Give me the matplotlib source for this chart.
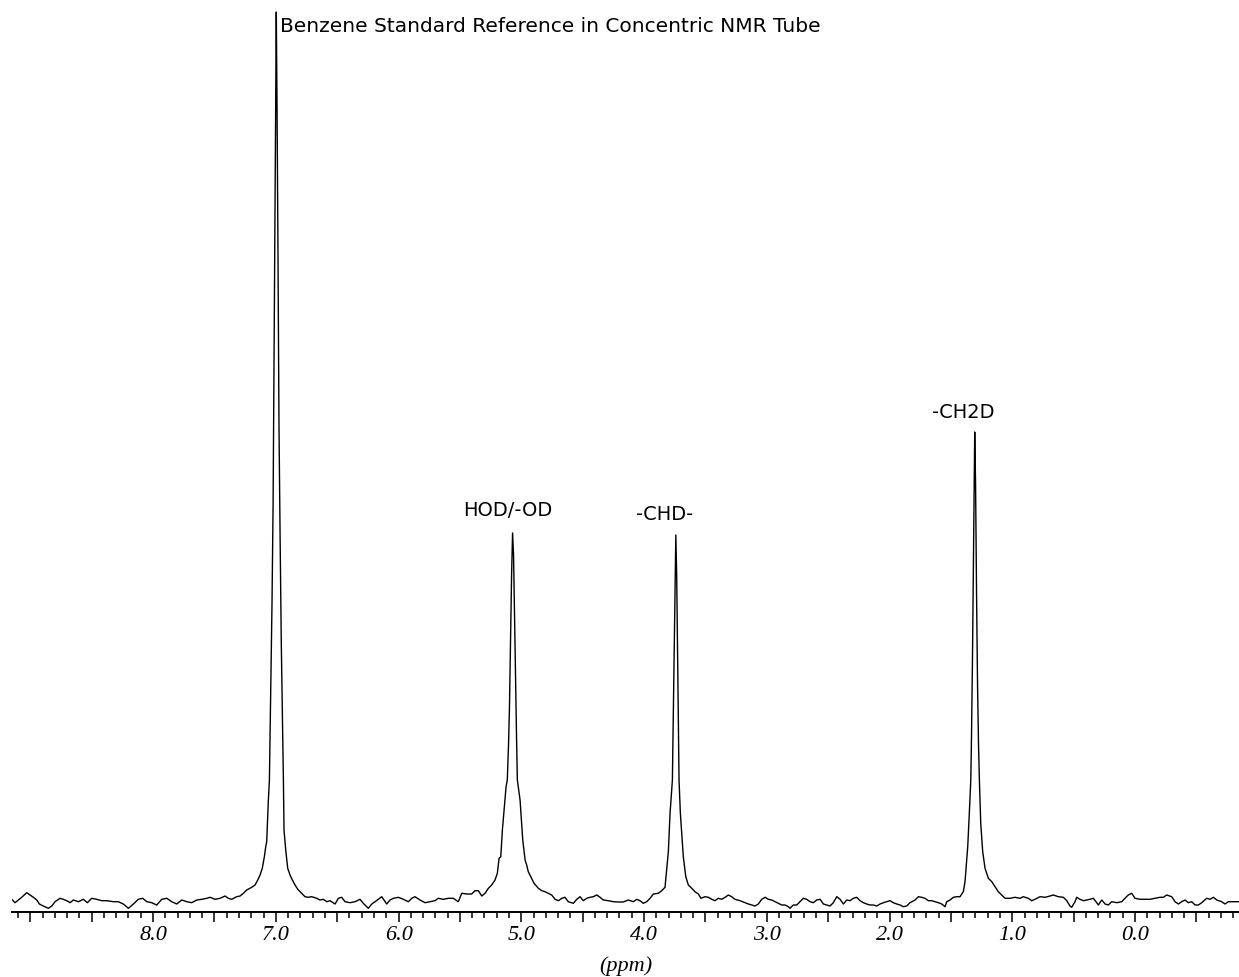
import matplotlib
matplotlib.use('Agg')
import matplotlib.pyplot as plt
from matplotlib.ticker import MultipleLocator, FuncFormatter

# chemical shift (ppm) and intensity (arbitrary units)
shift_ppm = [
    9.151, 9.124, 9.097, 9.070, 9.029, 9.002, 8.975, 8.947, 8.926, 8.894,
    8.853, 8.825, 8.798, 8.758, 8.731, 8.703, 8.676, 8.649, 8.608, 8.568,
    8.535, 8.499, 8.459, 8.418, 8.377, 8.323, 8.283, 8.242, 8.201, 8.160,
    8.120, 8.084, 8.051, 8.011, 7.970, 7.929, 7.888, 7.848, 7.807, 7.766,
    7.725, 7.685, 7.644, 7.603, 7.562,
    # benzene
    7.536, 7.495, 7.454, 7.413, 7.387, 7.359, 7.318, 7.291, 7.264, 7.237,
    7.196, 7.169, 7.147, 7.128, 7.110, 7.093, 7.082, 7.074, 7.061, 7.052,
    7.043, 7.031, 7.022, 7.014, 7.006, 7.000, 6.996, 6.990, 6.982, 6.974,
    6.965, 6.955, 6.938, 6.933, 6.919, 6.903, 6.884, 6.865, 6.843, 6.821,
    6.789, 6.762, 6.735, 6.707, 6.666, 6.640, 6.613, 6.585, 6.558, 6.517,
    6.490, 6.463, 6.436, 6.395, 6.354, 6.314, 6.287, 6.259, 6.246, 6.218,
    6.191, 6.165, 6.137, 6.096, 6.069, 6.042, 6.002, 5.961, 5.920, 5.892,
    5.866, 5.825,
    # HOD/-OD
    5.784, 5.743, 5.703, 5.676, 5.635, 5.594, 5.554, 5.513, 5.485, 5.444,
    5.404, 5.377, 5.350, 5.322, 5.295, 5.268, 5.241, 5.214, 5.195, 5.181,
    5.167, 5.154, 5.138, 5.124, 5.114, 5.104, 5.096, 5.088, 5.079, 5.071,
    5.063, 5.055, 5.047, 5.039, 5.032, 5.010, 4.988, 4.969, 4.956, 4.943,
    4.923, 4.896, 4.861, 4.833, 4.807, 4.780, 4.752, 4.725, 4.698, 4.670,
    4.644, 4.617, 4.576, 4.548, 4.521, 4.495, 4.467, 4.440, 4.413, 4.385,
    4.358, 4.332, 4.291, 4.250, 4.209, 4.169,
    # -CHD-
    4.128, 4.087, 4.059, 4.033, 4.006, 3.978, 3.951, 3.924, 3.884, 3.856,
    3.829, 3.815, 3.802, 3.788, 3.774, 3.769, 3.764, 3.756, 3.747, 3.741,
    3.734, 3.727, 3.720, 3.715, 3.704, 3.680, 3.660, 3.639, 3.611, 3.585,
    3.558, 3.536, 3.503, 3.476, 3.448, 3.422, 3.395, 3.367, 3.340, 3.313,
    3.286, 3.259, 3.218, 3.177, 3.150, 3.123, 3.096, 3.069, 3.041, 3.014,
    2.987, 2.960, 2.933, 2.906, 2.878, 2.851, 2.824, 2.811, 2.784, 2.756,
    2.729, 2.702, 2.675, 2.648, 2.621, 2.593, 2.566,
    2.539, 2.512, 2.485, 2.458, 2.430, 2.403, 2.376, 2.349, 2.322, 2.295,
    2.267, 2.240, 2.213, 2.186, 2.159, 2.132, 2.104, 2.077, 2.050, 2.023,
    1.996, 1.969, 1.941, 1.914, 1.888, 1.860, 1.833, 1.792, 1.765, 1.738,
    1.711, 1.684, 1.656, 1.629, 1.602, 1.575, 1.548, 1.534, 1.507, 1.480,
    # -CH2D
    1.453, 1.426, 1.399, 1.385, 1.371, 1.363, 1.350, 1.338, 1.332, 1.324,
    1.316, 1.309, 1.306, 1.299, 1.291, 1.283, 1.275, 1.268, 1.257, 1.241,
    1.222, 1.195, 1.167, 1.141, 1.114, 1.086, 1.059, 1.018, 0.978, 0.937,
    0.910,
    0.869, 0.842, 0.815, 0.774, 0.733, 0.692, 0.666, 0.625, 0.584, 0.556,
    0.530, 0.516, 0.489, 0.475, 0.448, 0.421, 0.393, 0.367, 0.340, 0.312,
    0.299, 0.271, 0.244, 0.218, 0.190, 0.149, 0.108, 0.082, 0.055, 0.027,
    0.000, -0.041, -0.082, -0.122, -0.163, -0.204, -0.231, -0.258, -0.299, -0.326,
    -0.353, -0.380, -0.407, -0.434, -0.462, -0.489, -0.516, -0.543, -0.584, -0.611,
    -0.638, -0.666, -0.706, -0.733, -0.760, -0.801, -0.841,
]

intensity = [
    5.7, 2.3, 5.0, 7.7, 12.3, 10.0, 7.7, 5.0, 1.0, -1.0,
    -3.3, -1.0, 3.3, 6.7, 5.7, 4.3, 2.3, 5.0, 3.3, 5.7,
    2.3, 6.7, 5.7, 4.3, 4.3, 3.3, 3.3, 1.0, -3.3, 1.0,
    5.7, 6.7, 3.3, 2.3, 0.0, 5.7, 6.7, 3.3, 1.0, 5.0,
    3.3, 2.3, 5.0, 5.7, 6.7,
    7.7, 5.7, 6.7, 9.0, 6.7, 5.7, 8.3, 9.0, 11.7, 15.0,
    17.7, 20.0, 25.0, 30.0, 36.7, 48.3, 58.3, 63.3, 103.3, 125,
    200, 300, 400, 550, 700, 820, 893, 800, 650, 480,
    370, 260, 125, 75, 55, 36.7, 30.0, 25.0, 20.0, 15.7,
    11.7, 8.3, 7.7, 8.3, 6.7, 5.0, 5.7, 3.3, 4.3, 1.0,
    6.7, 7.7, 3.3, 2.3, 3.3, 5.7, 1.7, -1.7, -3.3, 1.0,
    3.3, 5.7, 8.3, 1.0, 5.0, 6.7, 7.7, 5.7, 3.3, 6.7,
    8.3, 5.0,
    2.3, 3.3, 4.3, 6.7, 5.7, 6.7, 6.7, 3.3, 11.7, 11.0,
    11.0, 14.3, 14.3, 9.0, 11.7, 16.7, 20.0, 25.0, 31.7, 46.7,
    48.3, 75, 98.3, 118.3, 125, 160, 200, 260, 330, 372,
    350, 290, 230, 170, 125, 105, 65, 45, 40, 33.3,
    28.3, 21.7, 16.7, 14.3, 13.3, 11.7, 10.0, 5.7, 4.3, 6.7,
    7.7, 3.3, 1.7, 5.7, 8.3, 4.3, 6.7, 7.7, 8.3, 10.0,
    7.7, 5.0, 4.3, 3.3, 3.0, 3.0,
    5.0, 3.3, 5.7, 4.3, 1.7, 3.3, 6.7, 11.0, 11.7, 14.3,
    17.7, 36.7, 53.3, 91.7, 116.7, 125, 170, 240, 320, 370,
    330, 250, 180, 125, 91.7, 48.3, 28.3, 20.0, 16.7, 13.3,
    11.0, 6.7, 8.3, 7.7, 5.7, 4.3, 6.7, 5.7, 7.7, 10.0,
    8.3, 5.7, 4.3, 2.3, 1.0, 0.0, -1.0, 1.0, 5.7, 7.7,
    5.7, 5.0, 3.3, 1.7, 0.0, 0.0, -1.7, -3.3, 0.0, 0.0,
    3.3, 6.7, 5.7, 3.3, 2.3, 5.0, 5.7,
    1.0, 0.0, -1.0, 2.3, 8.3, 5.7, 1.0, 5.0, 4.3, 6.7,
    7.7, 4.3, 2.3, 1.0, 0.0, 0.0, -1.0, 1.0, 2.3, 3.3,
    4.3, 2.3, 1.0, 0.0, -1.7, -1.0, 2.3, 5.0, 8.3, 7.7,
    6.7, 4.3, 4.3, 3.3, 2.3, 1.0, -1.7, 3.3, 5.0, 7.7,
    8.3, 8.3, 13.3, 23.3, 45.0, 58.3, 91.7, 125, 170, 250,
    350, 440, 473, 420, 310, 220, 160, 125, 81.7, 53.3,
    36.7, 26.7, 23.3, 18.3, 13.3, 10.0, 6.7, 6.7, 7.7, 6.7,
    8.3,
    6.7, 4.3, 5.7, 8.3, 7.7, 9.0, 10.0, 8.3, 7.7, 4.3,
    -1.0, -2.3, 3.3, 7.7, 5.7, 4.3, 5.0, 5.7, 6.7, 2.3,
    0.0, 5.0, 1.0, 0.0, 3.3, 2.3, 3.3, 6.7, 10.0, 11.7,
    6.7, 5.7, 5.7, 5.7, 6.7, 7.7, 7.7, 10.0, 8.3, 3.3,
    1.0, 3.3, 5.0, 2.3, 3.3, 0.0, 0.0, 2.3, 6.7, 5.7,
    7.7, 5.0, 3.3, 1.0, 3.3, 3.3, 3.3,
]

# peak labels: text, centre shift, height of the label
label_text = ['HOD/-OD', '-CHD-', '-CH2D']
label_ppm = [5.108, 3.829, 1.401]
label_height = [394.5, 391, 493]

ref_text = 'Benzene Standard Reference in Concentric NMR Tube'
ref_ppm = 6.965
ref_height = 878

# only whole-ppm ticks from 8.0 down carry a label
labelled_max = 8.0


def tick_fmt(v, pos):
    if abs(v - round(v)) > 1e-6 or v > labelled_max + 1e-6:
        return ''
    return '%.1f' % abs(v) if abs(v) < 1e-6 else '%.1f' % v


fig = plt.figure(figsize=(12.39, 9.77), dpi=100)
ax = fig.add_axes([12 / 1239, 65 / 977, 1 - 12 / 1239, 912 / 977])

ax.plot(shift_ppm, intensity, color='black', lw=1.0)

ax.set_xlim(9.149, -0.847)
ax.set_ylim(-7, 905)

for s in ['top', 'left', 'right']:
    ax.spines[s].set_visible(False)
ax.spines['bottom'].set_linewidth(1.4)
ax.set_yticks([])

ax.xaxis.set_major_locator(MultipleLocator(0.5))
ax.xaxis.set_minor_locator(MultipleLocator(0.1))
ax.xaxis.set_major_formatter(FuncFormatter(tick_fmt))
ax.tick_params(axis='x', which='major', direction='out', length=7.5, width=1.1, pad=2.5)
ax.tick_params(axis='x', which='minor', direction='out', length=4.5, width=1.1)
for lbl in ax.get_xticklabels():
    lbl.set_family('Liberation Serif')
    lbl.set_style('italic')
    lbl.set_fontsize(16)

ax.set_xlabel('(ppm)', family='Liberation Serif', style='italic', fontsize=16, labelpad=8)

ax.text(ref_ppm, ref_height, ref_text, ha='left', va='center', fontsize=14.5)
for t, p, h in zip(label_text, label_ppm, label_height):
    ax.text(p, h, t, ha='center', va='center', fontsize=14)

fig.savefig('out.png', dpi=100)
